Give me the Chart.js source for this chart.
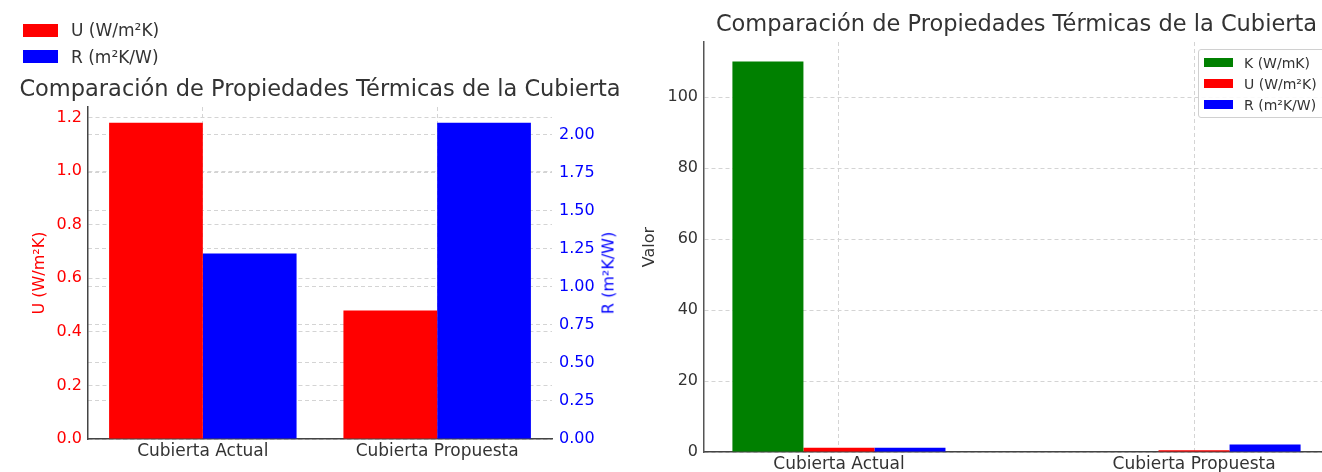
<!DOCTYPE html>
<html>
<head>
<meta charset="utf-8">
<script src="https://cdn.jsdelivr.net/npm/chart.js@4"></script>
<style>
  html, body { margin: 0; padding: 0; background: #fff; }
  body { position: relative; width: 1322px; height: 472px; overflow: hidden; font-family: 'DejaVu Sans', sans-serif; color: #333; }
  canvas { position: absolute; top: 0; }
  #left { left: 0; }
  #right { left: 640px; }
  .leg { position: absolute; white-space: nowrap; }
  .leg .row { display: flex; align-items: center; }
  .leg .sw { display: inline-block; }
  #legLeft { left: 23px; top: 17px; font-size: 17px; }
  #legLeft .row { height: 26.5px; }
  #legLeft .sw { width: 35px; height: 13px; margin-right: 13px; }
  #legRight { left: 1198px; top: 49px; width: 140px; height: 69px; font-size: 14px; background: rgba(255,255,255,0.85); border: 1px solid #d0d0d0; border-radius: 3px; box-sizing: border-box; padding-top: 2px; }
  #legRight .row { height: 21px; padding-left: 5px; }
  #legRight .sw { width: 29px; height: 9px; margin-right: 11px; }
  #rTitle { position: absolute; left: 608px; top: 273px; font-size: 16px; color: #0000ff; transform: translate(-50%, -50%) rotate(-90deg); white-space: nowrap; }
</style>
</head>
<body>
<canvas id="left" width="640" height="472"></canvas>
<canvas id="right" width="700" height="490"></canvas>
<div id="legLeft" class="leg"></div>
<div id="legRight" class="leg"></div>
<div id="rTitle">R (m²K/W)</div>
<script>
const titleText = 'Comparación de Propiedades Térmicas de la Cubierta';
const categories = ['Cubierta Actual', 'Cubierta Propuesta'];
const kValues = [110, 0];
const uValues = [1.18, 0.48];
const rValues = [1.22, 2.08];
const uTicks = [0.0, 0.2, 0.4, 0.6, 0.8, 1.0, 1.2];
const rTicks = [0.0, 0.25, 0.5, 0.75, 1.0, 1.25, 1.5, 1.75, 2.0];
const valueTicks = [0, 20, 40, 60, 80, 100];

const RED = '#ff0000', BLUE = '#0000ff', GREEN = '#008000';
const TEXT = '#333333', GRID = '#d4d4d4', SPINE = '#444444';

Chart.defaults.font.family = "'DejaVu Sans', sans-serif";
Chart.defaults.font.size = 16;
Chart.defaults.color = TEXT;

const toPoints = (arr) => arr.map((v, i) => ({ x: i, y: v }));

function catAxis(min, max, h) {
    return {
        type: 'linear',
        min: min,
        max: max,
        offset: false,
        afterBuildTicks: (s) => { s.ticks = categories.map((_, i) => ({ value: i })); },
        afterFit: (s) => { s.height = h; },
        ticks: { callback: (v) => categories[v], color: TEXT, padding: 2, maxRotation: 0, autoSkip: false, font: { size: 17 } },
        grid: { offset: false, color: GRID, lineWidth: 1, drawTicks: false },
        border: { display: true, color: SPINE, width: 1.5, dash: [4, 3] }
    };
}

function fixedTicks(list) {
    return (s) => { s.ticks = list.map((v) => ({ value: v })); };
}

// gráfico izquierdo: U y R con doble eje
const leftChart = new Chart(document.getElementById('left'), {
    type: 'bar',
    data: {
        datasets: [
            { label: 'U (W/m²K)', data: toPoints(uValues), backgroundColor: RED, borderWidth: 0, yAxisID: 'y' },
            { label: 'R (m²K/W)', data: toPoints(rValues), backgroundColor: BLUE, borderWidth: 0, yAxisID: 'y1' }
        ]
    },
    options: {
        responsive: false,
        animation: false,
        devicePixelRatio: 1,
        categoryPercentage: 0.8,
        barPercentage: 1.0,
        layout: { padding: 0 },
        scales: {
            x: catAxis(-0.49, 1.49, 33),
            y: {
                position: 'left',
                min: 0,
                max: Math.max(...uValues) * 1.05,
                afterBuildTicks: fixedTicks(uTicks),
                afterFit: (s) => { s.width = 88; },
                ticks: { color: RED, padding: 6, callback: (v) => v.toFixed(1) },
                grid: { color: GRID, drawTicks: false },
                border: { display: true, color: SPINE, width: 1.5, dash: [4, 3] },
                title: { display: true, text: 'U (W/m²K)', color: RED, padding: { top: 30 } }
            },
            y1: {
                position: 'right',
                min: 0,
                max: Math.max(...rValues) * 1.05,
                afterBuildTicks: fixedTicks(rTicks),
                afterFit: (s) => { s.width = 88; },
                ticks: { color: BLUE, padding: 7, callback: (v) => v.toFixed(2) },
                grid: { color: GRID, drawTicks: false },
                border: { display: false, dash: [4, 3] }
            }
        },
        plugins: {
            legend: { display: false },
            tooltip: { enabled: false },
            title: {
                display: true, text: titleText, fullSize: true, color: TEXT,
                font: { size: 22.5, weight: 'normal' }, padding: { top: 76.5, bottom: 3.5 }
            }
        }
    }
});

// gráfico derecho: K, U, R en un solo eje
const rightChart = new Chart(document.getElementById('right'), {
    type: 'bar',
    data: {
        datasets: [
            { label: 'K (W/mK)', data: toPoints(kValues), backgroundColor: GREEN, borderWidth: 0 },
            { label: 'U (W/m²K)', data: toPoints(uValues), backgroundColor: RED, borderWidth: 0 },
            { label: 'R (m²K/W)', data: toPoints(rValues), backgroundColor: BLUE, borderWidth: 0 }
        ]
    },
    options: {
        responsive: false,
        animation: false,
        devicePixelRatio: 1,
        categoryPercentage: 0.6,
        barPercentage: 1.0,
        layout: { padding: { right: 11 } },
        scales: {
            x: catAxis(-0.38, 1.38, 38),
            y: {
                min: 0,
                max: Math.max(...kValues) * 1.05,
                afterBuildTicks: fixedTicks(valueTicks),
                afterFit: (s) => { s.width = 64; },
                ticks: { color: TEXT, padding: 6 },
                grid: { color: GRID, drawTicks: false },
                border: { display: true, color: '#555555', width: 1.5, dash: [4, 3] },
                title: { display: true, text: 'Valor', color: TEXT, padding: { top: 0 } }
            }
        },
        plugins: {
            legend: { display: false },
            tooltip: { enabled: false },
            title: {
                display: true, text: titleText, fullSize: false, color: TEXT,
                font: { size: 22.5, weight: 'normal' }, padding: { top: 11.5, bottom: 3.5 }
            }
        }
    }
});

// leyendas en HTML a partir de los datasets
function buildLegend(id, chart) {
    const box = document.getElementById(id);
    chart.data.datasets.forEach((ds) => {
        const row = document.createElement('div');
        row.className = 'row';
        const sw = document.createElement('span');
        sw.className = 'sw';
        sw.style.background = ds.backgroundColor;
        const tx = document.createElement('span');
        tx.textContent = ds.label;
        row.appendChild(sw);
        row.appendChild(tx);
        box.appendChild(row);
    });
}
buildLegend('legLeft', leftChart);
buildLegend('legRight', rightChart);
</script>
</body>
</html>
